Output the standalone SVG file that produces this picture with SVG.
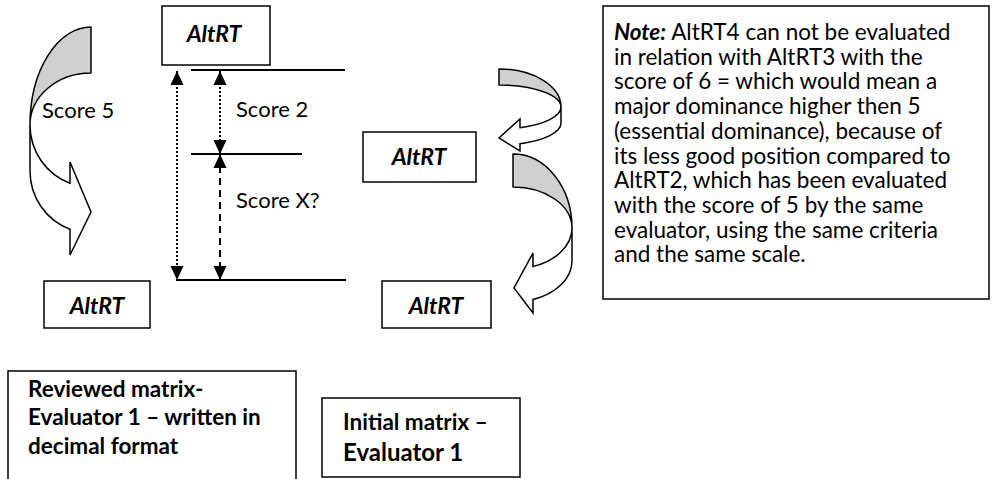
<svg xmlns="http://www.w3.org/2000/svg" width="992" height="479" viewBox="0 0 992 479">
<style>
.box{fill:#fff;stroke:#000;stroke-width:1.5}
.ln{stroke:#000;stroke-width:2;fill:none}
.back{fill:#d0d0d0;stroke:#000;stroke-width:1.5;stroke-linejoin:round}
.front{fill:#fff;stroke:#000;stroke-width:1.5;stroke-linejoin:miter}
.t{font-family:Lato,"Liberation Sans",sans-serif;font-size:22px;fill:#000}
.alt{font-family:Lato,"Liberation Sans",sans-serif;font-size:23px;font-weight:bold;font-style:italic;fill:#000}
.note{font-family:Lato,"Liberation Sans",sans-serif;font-size:22.5px;fill:#000}
.b{font-family:Lato,"Liberation Sans",sans-serif;font-size:22.5px;font-weight:bold;fill:#000}
</style>
<defs>
<marker id="ah" markerUnits="userSpaceOnUse" markerWidth="14" markerHeight="14" viewBox="0 0 14 14" refX="14" refY="7" orient="auto-start-reverse">
<path d="M0,0.5 L14,7 L0,13.5 Z" fill="#000"/>
</marker>
</defs>
<g id="curved-arrow-left">
<path class="back" d="M91,27 A61,98 0 0 0 30,125 A61,52 0 0 1 91,73 Z"/>
<path class="front" d="M30,125 A61,62 0 0 0 70,183.2 L70,162 L91,212 L70,255 L70,229.2 A61,62 0 0 1 30,171 Z"/>
</g>
<g id="curved-arrow-right-top">
<path class="back" d="M499,69 A62,38 0 0 1 561,107 A62,22 0 0 0 499,85 Z"/>
<path class="front" d="M561,107 A62,22 0 0 1 520,127.7 L520,119 L499,138 L520,151 L520,143.7 A62,22 0 0 0 561,123 Z"/>
</g>
<g id="curved-arrow-right-bottom">
<path class="back" d="M513,154 A59,74 0 0 1 572,228 A59,41 0 0 0 513,187 Z"/>
<path class="front" d="M572,228 A59,41 0 0 1 533,266.6 L533,253 L514,288 L533,313 L533,299.6 A59,41 0 0 0 572,261 Z"/>
</g>
<g id="connectors">
<line class="ln" x1="191" y1="70" x2="345" y2="70"/>
<line class="ln" x1="191" y1="154" x2="302" y2="154"/>
<line class="ln" x1="176" y1="280" x2="346" y2="280"/>
<path class="ln" d="M177,71 L177,280" stroke-dasharray="2 2" marker-start="url(#ah)" marker-end="url(#ah)"/>
<path class="ln" d="M220,71 L220,154" stroke-dasharray="2 2" marker-start="url(#ah)" marker-end="url(#ah)"/>
<path class="ln" d="M220,154 L220,280" stroke-dasharray="7 5" marker-start="url(#ah)" marker-end="url(#ah)"/>
</g>
<g id="label-score5"><text class="t" x="42" y="118">Score 5</text></g>
<g id="label-score2"><text class="t" x="236" y="117">Score 2</text></g>
<g id="label-scorex"><text class="t" x="236" y="208">Score X?</text></g>
<g id="altrt-top">
<rect class="box" x="162" y="6" width="108" height="59"/>
<text class="alt" x="214" y="42" text-anchor="middle">AltRT</text>
</g>
<g id="altrt-mid">
<rect class="box" x="363" y="132" width="113" height="50"/>
<text class="alt" x="419" y="165" text-anchor="middle">AltRT</text>
</g>
<g id="altrt-bottom-left">
<rect class="box" x="44" y="281" width="106" height="47"/>
<text class="alt" x="97" y="314" text-anchor="middle">AltRT</text>
</g>
<g id="altrt-bottom-right">
<rect class="box" x="382" y="281" width="109" height="47"/>
<text class="alt" x="436" y="314" text-anchor="middle">AltRT</text>
</g>
<g id="note">
<rect class="box" x="603" y="6" width="386" height="293"/>
<text class="note">
<tspan x="614" y="40"><tspan font-weight="bold" font-style="italic">Note:</tspan> AltRT4 can not be evaluated</tspan>
<tspan x="614" y="64.7">in relation with AltRT3 with the</tspan>
<tspan x="614" y="89.4">score of 6 = which would mean a</tspan>
<tspan x="614" y="114.1">major dominance higher then 5</tspan>
<tspan x="614" y="138.8">(essential dominance), because of</tspan>
<tspan x="614" y="163.5">its less good position compared to</tspan>
<tspan x="614" y="188.2">AltRT2, which has been evaluated</tspan>
<tspan x="614" y="212.9">with the score of 5 by the same</tspan>
<tspan x="614" y="237.6">evaluator, using the same criteria</tspan>
<tspan x="614" y="262.3">and the same scale.</tspan>
</text>
</g>
<g id="reviewed-matrix">
<rect class="box" x="8" y="371" width="288" height="112"/>
<text class="b">
<tspan x="28" y="397">Reviewed matrix-</tspan>
<tspan x="28" y="425">Evaluator 1 – written in</tspan>
<tspan x="28" y="454">decimal format</tspan>
</text>
</g>
<g id="initial-matrix">
<rect class="box" x="322" y="398" width="198" height="79"/>
<text class="b">
<tspan x="343" y="430">Initial matrix –</tspan>
<tspan x="343" y="461" font-size="24px">Evaluator 1</tspan>
</text>
</g>
</svg>
